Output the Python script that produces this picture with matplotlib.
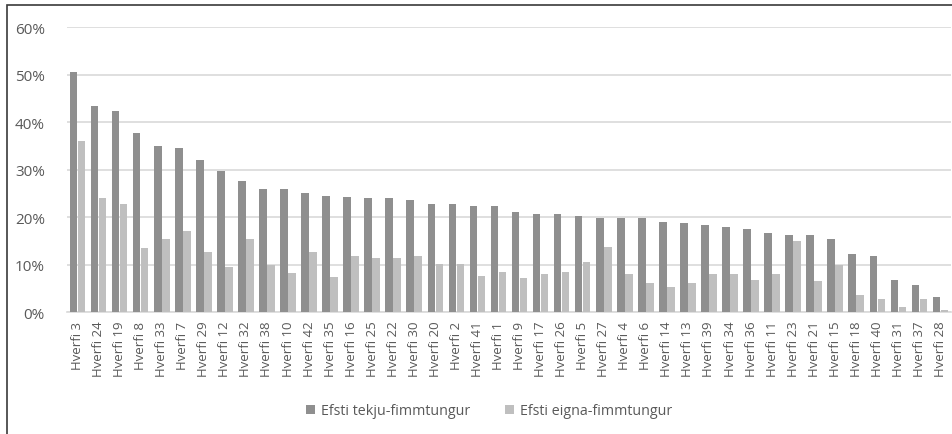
import matplotlib
matplotlib.use("Agg")
import matplotlib.pyplot as plt
from matplotlib.ticker import PercentFormatter
from matplotlib.patches import Rectangle
import numpy as np

DISTRICTS = [3, 24, 19, 8, 33, 7, 29, 12, 32, 38, 10, 42, 35, 16, 25, 22, 30, 20, 2, 41,
             1, 9, 17, 26, 5, 27, 4, 6, 14, 13, 39, 34, 36, 11, 23, 21, 15, 18, 40, 31, 37, 28]
LABELS = ['Hverfi ' + str(d) for d in DISTRICTS]

# top income quintile share (%)
income_top = [50.5, 43.5, 42.3, 37.8, 35.0, 34.6, 32.1, 29.7, 27.7, 26.0, 26.0, 25.2, 24.5, 24.3,
              24.0, 24.0, 23.6, 22.8, 22.8, 22.3, 22.3, 21.1, 20.7, 20.7, 20.3, 19.9, 19.9, 19.9,
              19.1, 18.7, 18.3, 17.9, 17.5, 16.6, 16.2, 16.2, 15.4, 12.2, 11.8, 6.9, 5.7, 3.2]
# top wealth quintile share (%)
wealth_top = [36.0, 24.0, 22.8, 13.5, 15.5, 17.2, 12.7, 9.5, 15.5, 10.0, 8.2, 12.7, 7.5, 11.8,
              11.4, 11.4, 11.8, 10.2, 10.2, 7.7, 8.5, 7.3, 8.1, 8.5, 10.5, 13.8, 8.1, 6.1,
              5.3, 6.1, 8.1, 8.1, 6.9, 8.1, 15.0, 6.5, 9.9, 3.6, 2.8, 1.2, 2.8, 0.4]

LEGENDS = ['Efsti tekju-fimmtungur', 'Efsti eigna-fimmtungur']
DARK = '#8f8f8f'
LIGHT = '#bfbfbf'
TEXT = '#595959'

plt.rcParams['font.family'] = ['Open Sans', 'DejaVu Sans']

fig = plt.figure(figsize=(9.52, 4.35), dpi=100)
ax = fig.add_axes([67 / 952, 1 - 313.3 / 435, (951 - 67) / 952, (313.3 - 28.3) / 435])

x = np.arange(len(LABELS))
w = 0.36
ax.bar(x - 0.19, np.array(income_top) / 100, w, color=DARK, label=LEGENDS[0], zorder=3)
ax.bar(x + 0.19, np.array(wealth_top) / 100, w, color=LIGHT, label=LEGENDS[1], zorder=3)

ax.set_xlim(-0.5, len(LABELS) - 0.5)
ax.set_ylim(0, 0.6)
ax.set_yticks(np.arange(0, 0.61, 0.1))
ax.yaxis.set_major_formatter(PercentFormatter(1.0, decimals=0))
ax.grid(axis='y', color='#d9d9d9', linewidth=1.2, zorder=0)
ax.set_xticks(x)
ax.set_xticklabels(LABELS, rotation=90, fontsize=9.5, color=TEXT)
ax.tick_params(axis='y', labelsize=11, labelcolor=TEXT, length=0, pad=16)
ax.tick_params(axis='x', length=0, pad=6)
for s in ['top', 'right', 'left']:
    ax.spines[s].set_visible(False)
ax.spines['bottom'].set_color('#d9d9d9')
ax.spines['bottom'].set_linewidth(1.2)

fig.legend(loc='center', bbox_to_anchor=(489 / 952, 1 - 412 / 435), ncol=2, frameon=False,
           fontsize=10.3, labelcolor=TEXT, handlelength=0.65, handleheight=0.65,
           handletextpad=0.4, columnspacing=2.4)

# outer chart frame
fig.patches.append(Rectangle((6.5 / 952, -0.1), 1.2, 1 - 5.5 / 435 + 0.1, transform=fig.transFigure,
                             fill=False, edgecolor='#3a3a3a', linewidth=1.2))

fig.savefig('out.png', dpi=100)
